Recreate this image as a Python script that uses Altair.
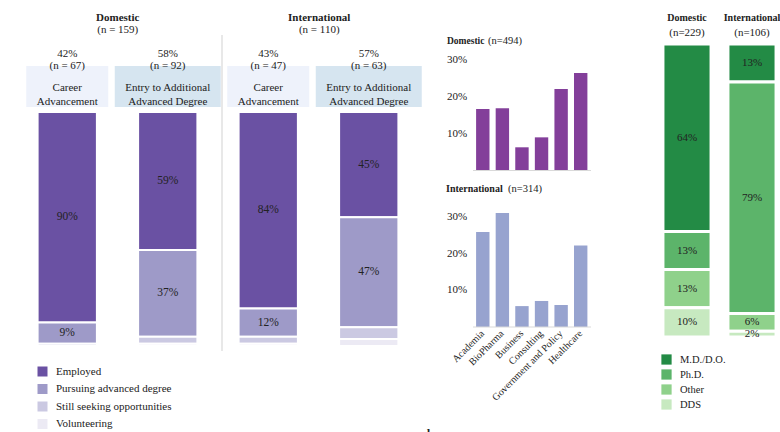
import altair as alt
import pandas as pd

# ---------------- data ----------------
# panel a
groups_a = ["Domestic", "International"]
group_n_a = [159, 110]
paths = ["Career Advancement", "Entry to Additional Advanced Degree"]
path_lines = ["Career\nAdvancement", "Entry to Additional\nAdvanced Degree"]
path_pct = [42, 58, 43, 57]
path_n = [67, 92, 47, 63]
statuses = ["Employed", "Pursuing advanced degree", "Still seeking opportunities", "Volunteering"]
employed = [90, 59, 84, 45]
pursuing = [9, 37, 12, 47]
seeking = [1, 3, 3, 5]
volunteering = [0, 1, 1, 3]

# panel b
sectors = ["Academia", "BioPharma", "Business", "Consulting", "Government  and Policy", "Healthcare"]
dom_sector = [16.7, 16.9, 6.3, 9.0, 22.1, 26.5]
intl_sector = [25.9, 31.1, 5.7, 7.1, 6.0, 22.2]
b_ticks = [10, 20, 30]

# panel c
degree_groups = ["Domestic", "International"]
degree_n = [229, 106]
degrees = ["M.D./D.O.", "Ph.D.", "Other", "DDS"]
dom_degree = [64, 13, 13, 10]
intl_degree = [13, 79, 6, 2]

# ---------------- styles ----------------
SERIF = "Liberation Serif"
INK = "#222222"
colors_a = ["#6a51a3", "#9e9ac8", "#cbc9e2", "#eceaf4"]
colors_c = ["#238b45", "#5cb46a", "#8fd18b", "#c7e9c0"]

# ---------------- tables ----------------
keys = [f"{g}|{p}" for g in groups_a for p in paths]
status_vals = [employed, pursuing, seeking, volunteering]
df_a = pd.DataFrame([
    {"key": k, "status": s, "order": j, "pct": status_vals[j][i]}
    for i, k in enumerate(keys) for j, s in enumerate(statuses)
])
df_head = pd.DataFrame([
    {"key": keys[i], "pidx": i % 2, "label": path_lines[i % 2],
     "top": f"{path_pct[i]}%\n(n = {path_n[i]})"}
    for i in range(4)
])
df_groups = pd.DataFrame({"group": groups_a, "n": [f"(n = {n})" for n in group_n_a]})

df_b = pd.DataFrame({"sector": sectors, "dom": dom_sector, "intl": intl_sector})
df_ticks = pd.DataFrame({"v": b_ticks, "label": [f"{t}%" for t in b_ticks]})
df_zero = pd.DataFrame({"v": [0]})

df_c = pd.DataFrame([
    {"group": g, "degree": d, "order": j, "pct": vals[j]}
    for g, vals in zip(degree_groups, [dom_degree, intl_degree]) for j, d in enumerate(degrees)
])
df_c_head = pd.DataFrame({"group": degree_groups, "n": [f"(n={n})" for n in degree_n]})

# ---------------- scales ----------------
xa = alt.Scale(domain=keys, range=[17, 419], paddingInner=0.41, paddingOuter=0.205)
xa_g = alt.Scale(domain=groups_a, range=[17, 420], paddingInner=0, paddingOuter=0)
ya = alt.Scale(domain=[0, 100], range=[112, 346])

xb = alt.Scale(domain=sectors, range=[473, 590.5], paddingInner=0.316, paddingOuter=0.158)
yb_d = alt.Scale(domain=[0, 30], range=[170.5, 60])
yb_i = alt.Scale(domain=[0, 30], range=[327, 217])

xc = alt.Scale(domain=degree_groups, range=[654.5, 784.5], paddingInner=0.26, paddingOuter=0.13)
yc = alt.Scale(domain=[0, 100], range=[44, 337])


def label(text, x, y, size=12, weight="normal", align="center"):
    return alt.Chart(pd.DataFrame({"t": [text]})).mark_text(
        font=SERIF, fontSize=size, fontWeight=weight, color=INK, align=align, baseline="middle"
    ).encode(x=alt.value(x), y=alt.value(y), text="t:N")


# ---------------- panel a ----------------
base_a = alt.Chart(df_a).transform_stack(
    stack="pct", groupby=["key"], as_=["y0", "y1"], sort=[alt.SortField("order", order="ascending")]
)
bars_a = base_a.mark_bar(stroke="white", strokeWidth=2).encode(
    x=alt.X("key:N", scale=xa, axis=None),
    y=alt.Y("y0:Q", scale=ya, axis=None),
    y2="y1:Q",
    color=alt.Color(
        "status:N",
        scale=alt.Scale(domain=statuses, range=colors_a),
        legend=alt.Legend(
            title=None, orient="none", legendX=37, legendY=366, symbolType="square",
            symbolSize=100, symbolStrokeWidth=0, labelFont=SERIF, labelFontSize=11,
            labelColor=INK, rowPadding=5.5, labelOffset=8, padding=0,
        ),
    ),
)
text_a = base_a.transform_filter("datum.order < 2").transform_calculate(
    mid="(datum.y0 + datum.y1) / 2", lbl="datum.pct + '%'"
).mark_text(font=SERIF, fontSize=11.5, color=INK, baseline="middle").encode(
    x=alt.X("key:N", scale=xa, axis=None),
    y=alt.Y("mid:Q", scale=ya, axis=None),
    text="lbl:N",
)
boxes = alt.Chart(df_head).mark_bar().encode(
    x=alt.X("key:N", scale=xa, axis=None),
    y=alt.value(66), y2=alt.value(107),
    size=alt.condition("datum.pidx == 0", alt.value(82), alt.value(106)),
    color=alt.condition("datum.pidx == 0", alt.value("#eef2fb"), alt.value("#d6e5f0")),
)
box_text = alt.Chart(df_head).mark_text(
    font=SERIF, fontSize=11, color=INK, baseline="middle", lineBreak="\n", lineHeight=14
).encode(x=alt.X("key:N", scale=xa, axis=None), y=alt.value(87.5), text="label:N")
top_text = alt.Chart(df_head).mark_text(
    font=SERIF, fontSize=11, color=INK, baseline="middle", lineBreak="\n", lineHeight=12.5
).encode(x=alt.X("key:N", scale=xa, axis=None), y=alt.value(53.5), text="top:N")
group_title = alt.Chart(df_groups).mark_text(
    font=SERIF, fontSize=11, fontWeight="bold", color=INK, baseline="middle"
).encode(x=alt.X("group:N", scale=xa_g, axis=None), y=alt.value(17.5), text="group:N")
group_n = alt.Chart(df_groups).mark_text(
    font=SERIF, fontSize=11, color=INK, baseline="middle"
).encode(x=alt.X("group:N", scale=xa_g, axis=None), y=alt.value(29.5), text="n:N")
divider = alt.Chart(df_zero).mark_rule(color="#d9d9d9", strokeWidth=1.2).encode(
    x=alt.value(222), y=alt.value(35), y2=alt.value(351)
)

# ---------------- panel b ----------------
bars_bd = alt.Chart(df_b).mark_bar(color="#833f9a").encode(
    x=alt.X("sector:N", scale=xb, axis=None), y=alt.Y("dom:Q", scale=yb_d, axis=None)
)
bars_bi = alt.Chart(df_b).mark_bar(color="#97a3cf").encode(
    x=alt.X("sector:N", scale=xb, axis=None), y=alt.Y("intl:Q", scale=yb_i, axis=None)
)
base_bd = alt.Chart(df_zero).mark_rule(color="#d9d9d9", strokeWidth=1.2).encode(
    x=alt.value(473), x2=alt.value(591), y=alt.Y("v:Q", scale=yb_d, axis=None)
)
base_bi = alt.Chart(df_zero).mark_rule(color="#d9d9d9", strokeWidth=1.2).encode(
    x=alt.value(473), x2=alt.value(591), y=alt.Y("v:Q", scale=yb_i, axis=None)
)
ticks_bd = alt.Chart(df_ticks).mark_text(
    font=SERIF, fontSize=11, color=INK, align="left", baseline="middle"
).encode(x=alt.value(447), y=alt.Y("v:Q", scale=yb_d, axis=None), text="label:N")
ticks_bi = alt.Chart(df_ticks).mark_text(
    font=SERIF, fontSize=11, color=INK, align="left", baseline="middle"
).encode(x=alt.value(447), y=alt.Y("v:Q", scale=yb_i, axis=None), text="label:N")
xlab_b = alt.Chart(df_b).mark_text(
    font=SERIF, fontSize=10, color=INK, align="right", baseline="middle", angle=315
).encode(x=alt.X("sector:N", scale=xb, axis=None), y=alt.value(332), text="sector:N")

# ---------------- panel c ----------------
base_c = alt.Chart(df_c).transform_stack(
    stack="pct", groupby=["group"], as_=["y0", "y1"], sort=[alt.SortField("order", order="ascending")]
)
bars_c = base_c.mark_bar(stroke="white", strokeWidth=3).encode(
    x=alt.X("group:N", scale=xc, axis=None),
    y=alt.Y("y0:Q", scale=yc, axis=None),
    y2="y1:Q",
    color=alt.Color(
        "degree:N",
        scale=alt.Scale(domain=degrees, range=colors_c),
        legend=alt.Legend(
            title=None, orient="none", legendX=661, legendY=354, symbolType="square",
            symbolSize=105, symbolStrokeWidth=0, labelFont=SERIF, labelFontSize=10.5,
            labelColor=INK, rowPadding=4, labelOffset=8, padding=0,
        ),
    ),
)
text_c = base_c.transform_calculate(
    mid="(datum.y0 + datum.y1) / 2", lbl="datum.pct + '%'"
).mark_text(font=SERIF, fontSize=11, color=INK, baseline="middle").encode(
    x=alt.X("group:N", scale=xc, axis=None),
    y=alt.Y("mid:Q", scale=yc, axis=None),
    text="lbl:N",
)
c_title = alt.Chart(df_c_head).mark_text(
    font=SERIF, fontSize=10, fontWeight="bold", color=INK, baseline="middle"
).encode(x=alt.X("group:N", scale=xc, axis=None), y=alt.value(18), text="group:N")
c_n = alt.Chart(df_c_head).mark_text(
    font=SERIF, fontSize=11, color=INK, baseline="middle"
).encode(x=alt.X("group:N", scale=xc, axis=None), y=alt.value(33), text="n:N")

chart = alt.layer(
    divider, boxes, box_text, top_text, group_title, group_n, bars_a, text_a,
    bars_bd, bars_bi, base_bd, base_bi, ticks_bd, ticks_bi, xlab_b,
    label("Domestic", 447, 41, 9.5, "bold", "left"), label("(n=494)", 488, 41, 10.5, "normal", "left"),
    label("International", 446, 189, 10, "bold", "left"), label("(n=314)", 508, 189, 10.5, "normal", "left"),
    bars_c, text_c, c_title, c_n,
    label("a", 9, 434, 12, "bold", "left"), label("b", 427, 434, 12, "bold", "left"),
    label("c", 633, 434, 12, "bold", "left"),
).resolve_scale(
    x="independent", y="independent", color="independent"
).properties(
    width=780, height=432, autosize=alt.AutoSizeParams(type="none"), padding=0
).configure_view(stroke=None)

chart.save("out.html", embed_options={"renderer": "svg", "actions": False})
